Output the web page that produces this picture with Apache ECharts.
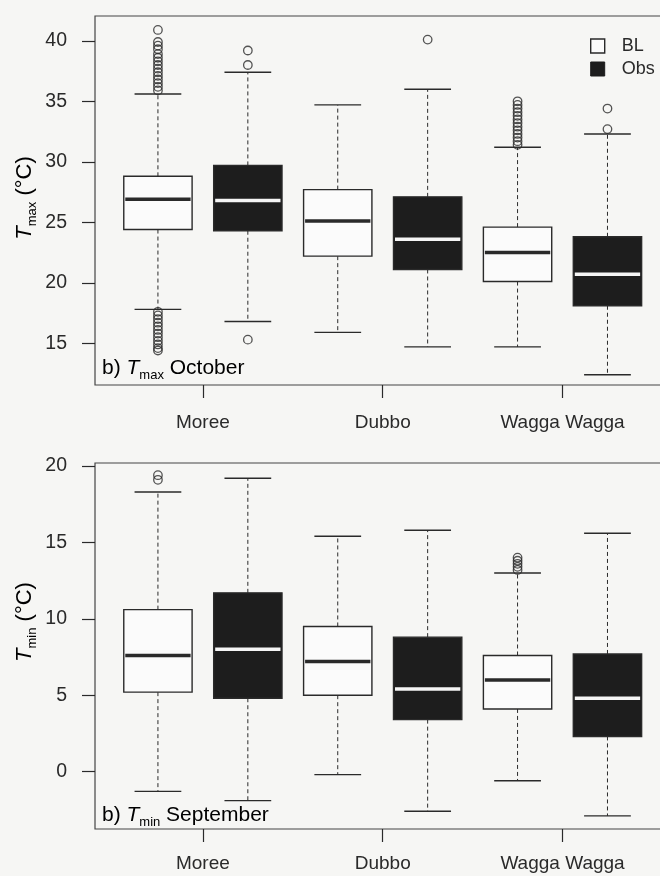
<!DOCTYPE html>
<html><head><meta charset="utf-8">
<script src="https://cdn.jsdelivr.net/npm/echarts@6/dist/echarts.min.js"></script>
<style>html,body{margin:0;padding:0;background:#f6f6f4}#c{width:660px;height:876px}</style>
</head><body><div id="c"></div><script>
// ---------- data ----------
const stations = ['Moree', 'Dubbo', 'Wagga Wagga'];
const tmaxTicks = [15, 20, 25, 30, 35, 40];
const tminTicks = [0, 5, 10, 15, 20];
// per station: [lower whisker, Q1, median, Q3, upper whisker]
const tmaxBL  = [[17.8, 24.4, 26.9, 28.8, 35.6], [15.9, 22.2, 25.1, 27.7, 34.7], [14.7, 20.1, 22.5, 24.6, 31.2]];
const tmaxObs = [[16.8, 24.3, 26.8, 29.7, 37.4], [14.7, 21.1, 23.6, 27.1, 36.0], [12.4, 18.1, 20.7, 23.8, 32.3]];
const tminBL  = [[-1.3, 5.2, 7.6, 10.6, 18.3], [-0.2, 5.0, 7.2, 9.5, 15.4], [-0.6, 4.1, 6.0, 7.6, 13.0]];
const tminObs = [[-1.9, 4.8, 8.0, 11.7, 19.2], [-2.6, 3.4, 5.4, 8.8, 15.8], [-2.9, 2.3, 4.8, 7.7, 15.6]];
// outliers per station
const tmaxOutBL = [
  [40.9, 39.9, 39.6, 39.3, 38.9, 38.6, 38.3, 38.0, 37.7, 37.4, 37.1, 36.8, 36.5, 36.2, 35.9,
   17.6, 17.3, 17.0, 16.7, 16.4, 16.1, 15.8, 15.5, 15.2, 14.9, 14.6, 14.4],
  [],
  [35.0, 34.7, 34.4, 34.1, 33.8, 33.5, 33.2, 32.9, 32.6, 32.3, 32.0, 31.7, 31.4]
];
const tmaxOutObs = [[39.2, 38.0, 15.3], [40.1], [34.4, 32.7]];
const tminOutBL = [[19.4, 19.1], [], [14.0, 13.8, 13.6, 13.4, 13.2]];
const tminOutObs = [[], [], []];

// ---------- style ----------
const FONT = "'Liberation Sans', Arial, sans-serif";
const INK = '#2a2a2a';
const FILL_BL = '#fbfbfb', FILL_OBS = '#1d1d1d';
const BOX_W = 0.76, CAP_W = 0.52;

function boxData(stats, offset) { return stats.map((s, i) => [2 * i + 1 + offset].concat(s)); }
function outlierData(outs, offset) {
  const r = [];
  outs.forEach((arr, i) => arr.forEach(v => r.push([2 * i + 1 + offset, v])));
  return r;
}
function makeRender(fill, medColor) {
  return function (params, api) {
    const x = api.value(0);
    const p = [1, 2, 3, 4, 5].map(k => api.coord([x, api.value(k)]));
    const cx = p[0][0];
    const bw = api.size([BOX_W, 0])[0], cw = api.size([CAP_W, 0])[0];
    const dash = { stroke: INK, lineWidth: 1, lineDash: [4, 3] };
    const solid = { stroke: INK, lineWidth: 1.4 };
    return { type: 'group', children: [
      { type: 'line', shape: { x1: cx, y1: p[3][1], x2: cx, y2: p[4][1] }, style: dash },
      { type: 'line', shape: { x1: cx, y1: p[1][1], x2: cx, y2: p[0][1] }, style: dash },
      { type: 'line', shape: { x1: cx - cw / 2, y1: p[4][1], x2: cx + cw / 2, y2: p[4][1] }, style: solid },
      { type: 'line', shape: { x1: cx - cw / 2, y1: p[0][1], x2: cx + cw / 2, y2: p[0][1] }, style: solid },
      { type: 'rect', shape: { x: cx - bw / 2, y: p[3][1], width: bw, height: p[1][1] - p[3][1] },
        style: { fill: fill, stroke: INK, lineWidth: 1.4 } },
      { type: 'line', shape: { x1: cx - bw / 2 + 1.5, y1: p[2][1], x2: cx + bw / 2 - 1.5, y2: p[2][1] },
        style: { stroke: medColor, lineWidth: 3.5 } }
    ]};
  };
}
function boxSeries(name, stats, offset, fill, med, idx) {
  return { type: 'custom', name: name, xAxisIndex: idx, yAxisIndex: idx,
    itemStyle: { color: fill, borderColor: INK },
    encode: { x: 0, y: [1, 2, 3, 4, 5] },
    data: boxData(stats, offset), renderItem: makeRender(fill, med), z: 2 };
}
function outSeries(name, outs, offset, idx) {
  return { type: 'scatter', name: name, xAxisIndex: idx, yAxisIndex: idx,
    symbol: 'circle', symbolSize: 8.5,
    itemStyle: { color: 'rgba(0,0,0,0)', borderColor: INK, borderWidth: 1.3 },
    data: outlierData(outs, offset), z: 3, silent: true };
}
function xAxisCfg(idx) {
  return { type: 'value', gridIndex: idx, min: 0.3, max: 6.74, position: 'bottom',
    axisLine: { show: false, onZero: false }, splitLine: { show: false },
    axisTick: { show: true, length: 13, inside: false, customValues: [1.5, 3.5, 5.5], lineStyle: { color: INK, width: 1.2 } },
    axisLabel: { show: true, margin: idx === 0 ? 28 : 25, customValues: [1.5, 3.5, 5.5],
      formatter: v => stations[Math.round((v - 1.5) / 2)], fontFamily: FONT, fontSize: 19, color: INK } };
}
function yAxisCfg(idx, min, max, ticks) {
  return { type: 'value', gridIndex: idx, min: min, max: max, position: 'left',
    axisLine: { show: false, onZero: false }, splitLine: { show: false },
    axisTick: { show: true, length: 13, inside: false, customValues: ticks, lineStyle: { color: INK, width: 1.2 } },
    axisLabel: { show: true, margin: 28, customValues: ticks, fontFamily: FONT, fontSize: 19.5, color: INK } };
}
const richBase = {
  a: { fontFamily: FONT, fontSize: 21, color: INK, lineHeight: 28 },
  i: { fontFamily: FONT, fontSize: 21, fontStyle: 'italic', color: INK, lineHeight: 28 },
  s: { fontFamily: FONT, fontSize: 13, color: INK, verticalAlign: 'bottom' }
};
const richTitle = {
  n: { fontFamily: FONT, fontSize: 22, color: INK, lineHeight: 28 },
  i: { fontFamily: FONT, fontSize: 22, fontStyle: 'italic', color: INK, lineHeight: 28 },
  s: { fontFamily: FONT, fontSize: 13, color: INK, verticalAlign: 'bottom' }
};

const chart = echarts.init(document.getElementById('c'), null, { renderer: 'canvas' });
chart.setOption({
  backgroundColor: '#f6f6f4',
  animation: false,
  grid: [
    { left: 95, top: 16, right: -14, height: 369, show: true, borderColor: '#444', borderWidth: 1.2,
      backgroundColor: 'transparent', containLabel: false, outerBoundsMode: 'none' },
    { left: 95, top: 463, right: -14, height: 366, show: true, borderColor: '#444', borderWidth: 1.2,
      backgroundColor: 'transparent', containLabel: false, outerBoundsMode: 'none' }
  ],
  xAxis: [xAxisCfg(0), xAxisCfg(1)],
  yAxis: [yAxisCfg(0, 11.55, 42.05, tmaxTicks), yAxisCfg(1, -3.76, 20.2, tminTicks)],
  legend: {
    orient: 'vertical', left: 590, top: 37, padding: 0, itemGap: 5,
    itemWidth: 14, itemHeight: 14, icon: 'rect',
    textStyle: { fontFamily: FONT, fontSize: 18, color: INK, padding: [0, 0, 0, 12] },
    data: [
      { name: 'BL', itemStyle: { color: FILL_BL, borderColor: INK, borderWidth: 1.4 } },
      { name: 'Obs', itemStyle: { color: FILL_OBS, borderColor: FILL_OBS, borderWidth: 1 } }
    ]
  },
  graphic: [
    { type: 'text', x: 102, y: 368, style: { text: '{a|b) }{i|T}{s|max}{a| October}', rich: richBase, verticalAlign: 'middle', align: 'left' } },
    { type: 'text', x: 102, y: 815, style: { text: '{a|b) }{i|T}{s|min}{a| September}', rich: richBase, verticalAlign: 'middle', align: 'left' } },
    { type: 'text', x: 25, y: 198, rotation: Math.PI / 2, style: { text: '{i|T}{s|max}{n| (°C)}', rich: richTitle, verticalAlign: 'middle', align: 'center' } },
    { type: 'text', x: 25, y: 622, rotation: Math.PI / 2, style: { text: '{i|T}{s|min}{n| (°C)}', rich: richTitle, verticalAlign: 'middle', align: 'center' } }
  ],
  series: [
    boxSeries('BL', tmaxBL, 0, FILL_BL, INK, 0),
    boxSeries('Obs', tmaxObs, 1, FILL_OBS, '#f4f4f4', 0),
    outSeries('BL outliers', tmaxOutBL, 0, 0),
    outSeries('Obs outliers', tmaxOutObs, 1, 0),
    boxSeries('BL', tminBL, 0, FILL_BL, INK, 1),
    boxSeries('Obs', tminObs, 1, FILL_OBS, '#f4f4f4', 1),
    outSeries('BL outliers', tminOutBL, 0, 1),
    outSeries('Obs outliers', tminOutObs, 1, 1)
  ]
});
</script></body></html>
